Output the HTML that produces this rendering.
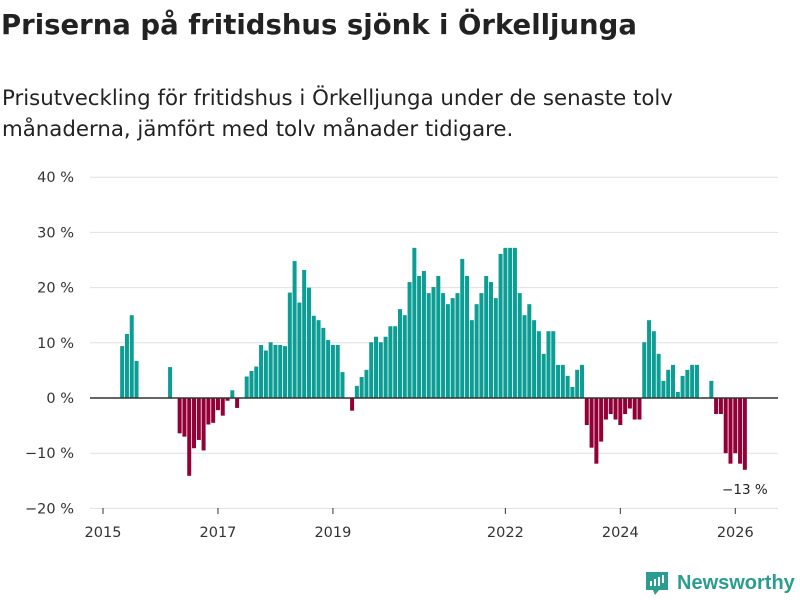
<!DOCTYPE html>
<html><head><meta charset="utf-8"><style>
body{margin:0;background:#fff;width:800px;height:600px;overflow:hidden;font-family:"DejaVu Sans","Liberation Sans",sans-serif;color:#222}
h1{position:absolute;left:1px;top:9px;margin:0;font-size:27.5px;font-weight:bold;white-space:nowrap}
p{position:absolute;left:2px;top:83px;margin:0;font-size:21.3px;line-height:31px;white-space:nowrap}
svg{position:absolute;left:0;top:0}
</style></head><body>
<h1>Priserna på fritidshus sjönk i Örkelljunga</h1>
<p>Prisutveckling för fritidshus i Örkelljunga under de senaste tolv<br>månaderna, jämfört med tolv månader tidigare.</p>
<svg id="chart" width="800" height="600" font-family="DejaVu Sans, Liberation Sans, sans-serif"></svg>
<script>
const yTicks=[40,30,20,10,0,-10,-20];
const yTickLabels=["40 %","30 %","20 %","10 %","0 %","−10 %","−20 %"];
const xTickYears=[2015,2017,2019,2022,2024,2026];
const startIndex=4;
const values=[9.4,11.6,15.0,6.7,null,null,null,null,null,null,5.6,null,-6.4,-7.0,-14.1,-9.1,-7.6,-9.5,-4.8,-4.5,-2.2,-3.2,-0.5,1.4,-1.8,null,3.9,4.9,5.7,9.6,8.6,10.1,9.6,9.6,9.4,19.1,24.8,17.3,23.2,20.0,14.9,14.1,12.7,10.5,9.6,9.6,4.7,null,-2.3,2.2,3.8,5.1,10.1,11.1,10.1,11.1,13.0,13.0,16.1,15.0,21.0,27.2,22.1,23.0,19.0,20.1,22.1,19.0,17.0,18.1,19.0,25.2,22.1,14.1,17.0,19.0,22.1,21.0,18.1,26.1,27.2,27.2,27.2,19.0,15.0,17.0,14.1,12.1,8.0,12.1,12.1,6.0,6.0,4.0,2.0,5.1,6.0,-4.9,-9.0,-11.9,-7.9,-3.9,-2.9,-3.9,-4.9,-2.9,-1.9,-3.9,-3.9,10.1,14.1,12.1,8.0,3.1,5.1,6.0,1.1,4.0,5.1,6.0,6.0,null,null,3.1,-2.9,-2.9,-10.0,-11.9,-10.0,-11.9,-13.0];
const lastLabel="−13 %";
const svg=document.getElementById('chart');
const NS='http://www.w3.org/2000/svg';
const y=v=>398-v*5.52;
const x=i=>103+i*4.79;
const xYear=yr=>x((yr-2015)*12);
function mk(t,a){const e=document.createElementNS(NS,t);for(const k in a)e.setAttribute(k,a[k]);svg.appendChild(e);return e;}
yTicks.forEach((t,j)=>{
 if(t!==0){const g=mk('line',{x1:90,x2:778,y1:y(t),y2:y(t),stroke:'#e0e0e0','stroke-width':1});
 
 }
 const l=mk('text',{x:74,y:y(t)+5,'text-anchor':'end','font-size':14.5,fill:'#333'});
 l.textContent=yTickLabels[j];
 
 
});
xTickYears.forEach(yr=>{
 const tk=mk('line',{x1:xYear(yr),x2:xYear(yr),y1:508,y2:514,stroke:'#333','stroke-width':1});
 
 
 const l=mk('text',{x:xYear(yr),y:537,'text-anchor':'middle','font-size':14.5,fill:'#333'});
 l.textContent=yr;
 
 
});
values.forEach((v,k)=>{
 if(v===null)return;
 const cx=x(startIndex+k);
 const r=mk('rect',{x:cx-2,width:4,y:v>=0?y(v):y(0),height:Math.abs(y(v)-y(0)),fill:v>=0?'#0c9e94':'#930038'});
 
 
});
const z=mk('line',{x1:90,x2:778,y1:y(0),y2:y(0),stroke:'#333','stroke-width':1.5});


const lastI=startIndex+values.length-1;
const ll=mk('text',{x:x(lastI),y:494,'text-anchor':'middle','font-size':13.5,fill:'#222'});
ll.textContent=lastLabel;


</script>
<svg width="800" height="600" style="pointer-events:none">
<path d="M646 572 h22 v18 h-9 l-4 5 l-2 -5 h-7 z" fill="#2a9d8f"/>
<rect x="650" y="581" width="2" height="5" fill="#fff"/><rect x="654" y="579" width="2" height="7" fill="#fff"/><rect x="658" y="577" width="2" height="9" fill="#fff"/><rect x="662" y="575" width="2" height="8" fill="#fff"/>
<text x="677" y="589" font-size="20" font-weight="bold" fill="#2a9d8f" font-family="Liberation Sans, sans-serif">Newsworthy</text>
</svg>
</body></html>
